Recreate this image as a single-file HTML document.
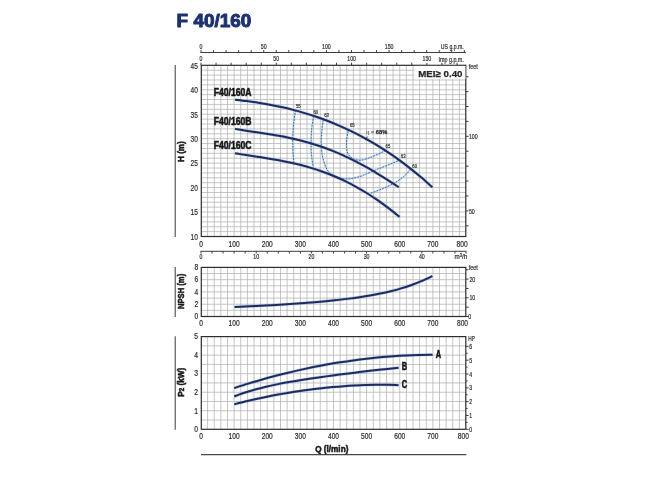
<!DOCTYPE html>
<html lang="en">
<head>
<meta charset="utf-8">
<title>F 40/160</title>
<style>
html,body{margin:0;padding:0;background:#ffffff;}
body{width:650px;height:487px;overflow:hidden;font-family:"Liberation Sans",sans-serif;}
svg{display:block;}
</style>
</head>
<body>
<svg width="650" height="487" viewBox="0 0 650 487" font-family='"Liberation Sans", sans-serif'>
<rect width="650" height="487" fill="#ffffff"/>
<text x="176.6" y="26.5" font-size="18.2" font-weight="bold" fill="#1d3270" stroke="#1d3270" stroke-width="1" stroke-linejoin="round" textLength="74.6" lengthAdjust="spacingAndGlyphs">F 40/160</text>
<path d="M175.2 65V237" stroke="#4a4a4a" stroke-width="1.1"/>
<path d="M175.2 267.1V317" stroke="#4a4a4a" stroke-width="1.1"/>
<path d="M175.2 336.3V429.8" stroke="#4a4a4a" stroke-width="1.1"/>
<path d="M201 454.6H466.3" stroke="#4a4a4a" stroke-width="1.1"/>
<path d="M207.62 65.3V236.5M214.25 65.3V236.5M220.88 65.3V236.5M227.5 65.3V236.5M234.12 65.3V236.5M240.75 65.3V236.5M247.38 65.3V236.5M254 65.3V236.5M260.62 65.3V236.5M267.25 65.3V236.5M273.88 65.3V236.5M280.5 65.3V236.5M287.12 65.3V236.5M293.75 65.3V236.5M300.38 65.3V236.5M307 65.3V236.5M313.62 65.3V236.5M320.25 65.3V236.5M326.88 65.3V236.5M333.5 65.3V236.5M340.12 65.3V236.5M346.75 65.3V236.5M353.38 65.3V236.5M360 65.3V236.5M366.62 65.3V236.5M373.25 65.3V236.5M379.88 65.3V236.5M386.5 65.3V236.5M393.12 65.3V236.5M399.75 65.3V236.5M406.38 65.3V236.5M413 65.3V236.5M419.62 65.3V236.5M426.25 65.3V236.5M432.88 65.3V236.5M439.5 65.3V236.5M446.12 65.3V236.5M452.75 65.3V236.5M459.38 65.3V236.5M201 231.61H466M201 226.72H466M201 221.83H466M201 216.93H466M201 212.04H466M201 207.15H466M201 202.26H466M201 197.37H466M201 192.48H466M201 187.59H466M201 182.69H466M201 177.8H466M201 172.91H466M201 168.02H466M201 163.13H466M201 158.24H466M201 153.35H466M201 148.45H466M201 143.56H466M201 138.67H466M201 133.78H466M201 128.89H466M201 124H466M201 119.11H466M201 114.21H466M201 109.32H466M201 104.43H466M201 99.54H466M201 94.65H466M201 89.76H466M201 84.87H466M201 79.97H466M201 75.08H466M201 70.19H466" stroke="#b2b2b2" stroke-width="0.75" fill="none"/>
<rect x="201.3" y="65.3" width="264.5" height="171.2" fill="none" stroke="#2c2c2c" stroke-width="1.2"/>
<path d="M207.62 267.4V316.5M214.25 267.4V316.5M220.88 267.4V316.5M227.5 267.4V316.5M234.12 267.4V316.5M240.75 267.4V316.5M247.38 267.4V316.5M254 267.4V316.5M260.62 267.4V316.5M267.25 267.4V316.5M273.88 267.4V316.5M280.5 267.4V316.5M287.12 267.4V316.5M293.75 267.4V316.5M300.38 267.4V316.5M307 267.4V316.5M313.62 267.4V316.5M320.25 267.4V316.5M326.88 267.4V316.5M333.5 267.4V316.5M340.12 267.4V316.5M346.75 267.4V316.5M353.38 267.4V316.5M360 267.4V316.5M366.62 267.4V316.5M373.25 267.4V316.5M379.88 267.4V316.5M386.5 267.4V316.5M393.12 267.4V316.5M399.75 267.4V316.5M406.38 267.4V316.5M413 267.4V316.5M419.62 267.4V316.5M426.25 267.4V316.5M432.88 267.4V316.5M439.5 267.4V316.5M446.12 267.4V316.5M452.75 267.4V316.5M459.38 267.4V316.5M201 310.36H466M201 304.23H466M201 298.09H466M201 291.95H466M201 285.81H466M201 279.68H466M201 273.54H466" stroke="#b2b2b2" stroke-width="0.75" fill="none"/>
<rect x="201.3" y="267.4" width="264.5" height="49.1" fill="none" stroke="#2c2c2c" stroke-width="1.2"/>
<path d="M207.62 336.6V429.3M214.25 336.6V429.3M220.88 336.6V429.3M227.5 336.6V429.3M234.12 336.6V429.3M240.75 336.6V429.3M247.38 336.6V429.3M254 336.6V429.3M260.62 336.6V429.3M267.25 336.6V429.3M273.88 336.6V429.3M280.5 336.6V429.3M287.12 336.6V429.3M293.75 336.6V429.3M300.38 336.6V429.3M307 336.6V429.3M313.62 336.6V429.3M320.25 336.6V429.3M326.88 336.6V429.3M333.5 336.6V429.3M340.12 336.6V429.3M346.75 336.6V429.3M353.38 336.6V429.3M360 336.6V429.3M366.62 336.6V429.3M373.25 336.6V429.3M379.88 336.6V429.3M386.5 336.6V429.3M393.12 336.6V429.3M399.75 336.6V429.3M406.38 336.6V429.3M413 336.6V429.3M419.62 336.6V429.3M426.25 336.6V429.3M432.88 336.6V429.3M439.5 336.6V429.3M446.12 336.6V429.3M452.75 336.6V429.3M459.38 336.6V429.3M201 420.03H466M201 410.76H466M201 401.49H466M201 392.22H466M201 382.95H466M201 373.68H466M201 364.41H466M201 355.14H466M201 345.87H466" stroke="#b2b2b2" stroke-width="0.75" fill="none"/>
<rect x="201.3" y="336.6" width="264.5" height="92.7" fill="none" stroke="#2c2c2c" stroke-width="1.2"/>
<path d="M200.5 52.5H465.8M201 52.5v-2.4M213.54 52.5v-2.4M226.08 52.5v-2.4M238.62 52.5v-2.4M251.16 52.5v-2.4M263.7 52.5v-2.4M276.24 52.5v-2.4M288.77 52.5v-2.4M301.31 52.5v-2.4M313.85 52.5v-2.4M326.39 52.5v-2.4M338.93 52.5v-2.4M351.47 52.5v-2.4M364.01 52.5v-2.4M376.55 52.5v-2.4M389.09 52.5v-2.4M401.63 52.5v-2.4M414.17 52.5v-2.4M426.71 52.5v-2.4M439.24 52.5v-2.4M451.78 52.5v-2.4M464.32 52.5v-2.4" stroke="#3c3c3c" stroke-width="1" fill="none"/>
<text transform="translate(201 49.08) scale(0.73 1)" font-size="7.2" text-anchor="middle" font-weight="normal" fill="#2a2a2a" stroke="#2a2a2a" stroke-width="0.2">0</text>
<text transform="translate(263.7 49.08) scale(0.73 1)" font-size="7.2" text-anchor="middle" font-weight="normal" fill="#2a2a2a" stroke="#2a2a2a" stroke-width="0.2">50</text>
<text transform="translate(326.39 49.08) scale(0.73 1)" font-size="7.2" text-anchor="middle" font-weight="normal" fill="#2a2a2a" stroke="#2a2a2a" stroke-width="0.2">100</text>
<text transform="translate(389.09 49.08) scale(0.73 1)" font-size="7.2" text-anchor="middle" font-weight="normal" fill="#2a2a2a" stroke="#2a2a2a" stroke-width="0.2">150</text>
<text transform="translate(463.8 49.3) scale(0.775 1)" font-size="6.7" text-anchor="end" font-weight="normal" fill="#2a2a2a" stroke="#2a2a2a" stroke-width="0.2">US g.p.m.</text>
<path d="M201 65.3v-2.6M216.06 65.3v-2.6M231.12 65.3v-2.6M246.18 65.3v-2.6M261.24 65.3v-2.6M276.29 65.3v-2.6M291.35 65.3v-2.6M306.41 65.3v-2.6M321.47 65.3v-2.6M336.53 65.3v-2.6M351.59 65.3v-2.6M366.65 65.3v-2.6M381.71 65.3v-2.6M396.77 65.3v-2.6M411.82 65.3v-2.6M426.88 65.3v-2.6M441.94 65.3v-2.6M457 65.3v-2.6" stroke="#3c3c3c" stroke-width="1" fill="none"/>
<text transform="translate(201 61.48) scale(0.73 1)" font-size="7.2" text-anchor="middle" font-weight="normal" fill="#2a2a2a" stroke="#2a2a2a" stroke-width="0.2">0</text>
<text transform="translate(276.29 61.48) scale(0.73 1)" font-size="7.2" text-anchor="middle" font-weight="normal" fill="#2a2a2a" stroke="#2a2a2a" stroke-width="0.2">50</text>
<text transform="translate(351.59 61.48) scale(0.73 1)" font-size="7.2" text-anchor="middle" font-weight="normal" fill="#2a2a2a" stroke="#2a2a2a" stroke-width="0.2">100</text>
<text transform="translate(426.88 61.48) scale(0.73 1)" font-size="7.2" text-anchor="middle" font-weight="normal" fill="#2a2a2a" stroke="#2a2a2a" stroke-width="0.2">150</text>
<text transform="translate(463.8 61.7) scale(0.8 1)" font-size="6.7" text-anchor="end" font-weight="normal" fill="#2a2a2a" stroke="#2a2a2a" stroke-width="0.2">Imp g.p.m.</text>
<path d="M466 225.78h2.5M466 210.87h2.5M466 195.96h2.5M466 181.05h2.5M466 166.14h2.5M466 151.23h2.5M466 136.32h2.5M466 121.41h2.5M466 106.51h2.5M466 91.6h2.5M466 76.69h2.5" stroke="#3c3c3c" stroke-width="1" fill="none"/>
<text transform="translate(468.7 69.07) scale(0.8 1)" font-size="6.9" text-anchor="start" font-weight="normal" fill="#2a2a2a" stroke="#2a2a2a" stroke-width="0.2">feet</text>
<text transform="translate(468.9 139.2) scale(0.73 1)" font-size="7.2" text-anchor="start" font-weight="normal" fill="#2a2a2a" stroke="#2a2a2a" stroke-width="0.2">100</text>
<text transform="translate(468.9 213.75) scale(0.73 1)" font-size="7.2" text-anchor="start" font-weight="normal" fill="#2a2a2a" stroke="#2a2a2a" stroke-width="0.2">50</text>
<text transform="translate(197.9 239.81) scale(0.78 1)" font-size="8.4" text-anchor="end" font-weight="normal" fill="#2a2a2a" stroke="#2a2a2a" stroke-width="0.2">10</text>
<text transform="translate(197.9 215.35) scale(0.78 1)" font-size="8.4" text-anchor="end" font-weight="normal" fill="#2a2a2a" stroke="#2a2a2a" stroke-width="0.2">15</text>
<text transform="translate(197.9 190.89) scale(0.78 1)" font-size="8.4" text-anchor="end" font-weight="normal" fill="#2a2a2a" stroke="#2a2a2a" stroke-width="0.2">20</text>
<text transform="translate(197.9 166.44) scale(0.78 1)" font-size="8.4" text-anchor="end" font-weight="normal" fill="#2a2a2a" stroke="#2a2a2a" stroke-width="0.2">25</text>
<text transform="translate(197.9 141.98) scale(0.78 1)" font-size="8.4" text-anchor="end" font-weight="normal" fill="#2a2a2a" stroke="#2a2a2a" stroke-width="0.2">30</text>
<text transform="translate(197.9 117.52) scale(0.78 1)" font-size="8.4" text-anchor="end" font-weight="normal" fill="#2a2a2a" stroke="#2a2a2a" stroke-width="0.2">35</text>
<text transform="translate(197.9 93.06) scale(0.78 1)" font-size="8.4" text-anchor="end" font-weight="normal" fill="#2a2a2a" stroke="#2a2a2a" stroke-width="0.2">40</text>
<text transform="translate(197.9 68.61) scale(0.78 1)" font-size="8.4" text-anchor="end" font-weight="normal" fill="#2a2a2a" stroke="#2a2a2a" stroke-width="0.2">45</text>
<text transform="translate(201 247.31) scale(0.79 1)" font-size="8.4" text-anchor="middle" font-weight="normal" fill="#2a2a2a" stroke="#2a2a2a" stroke-width="0.2">0</text>
<text transform="translate(234.12 247.31) scale(0.79 1)" font-size="8.4" text-anchor="middle" font-weight="normal" fill="#2a2a2a" stroke="#2a2a2a" stroke-width="0.2">100</text>
<text transform="translate(267.25 247.31) scale(0.79 1)" font-size="8.4" text-anchor="middle" font-weight="normal" fill="#2a2a2a" stroke="#2a2a2a" stroke-width="0.2">200</text>
<text transform="translate(300.38 247.31) scale(0.79 1)" font-size="8.4" text-anchor="middle" font-weight="normal" fill="#2a2a2a" stroke="#2a2a2a" stroke-width="0.2">300</text>
<text transform="translate(333.5 247.31) scale(0.79 1)" font-size="8.4" text-anchor="middle" font-weight="normal" fill="#2a2a2a" stroke="#2a2a2a" stroke-width="0.2">400</text>
<text transform="translate(366.62 247.31) scale(0.79 1)" font-size="8.4" text-anchor="middle" font-weight="normal" fill="#2a2a2a" stroke="#2a2a2a" stroke-width="0.2">500</text>
<text transform="translate(399.75 247.31) scale(0.79 1)" font-size="8.4" text-anchor="middle" font-weight="normal" fill="#2a2a2a" stroke="#2a2a2a" stroke-width="0.2">600</text>
<text transform="translate(432.88 247.31) scale(0.79 1)" font-size="8.4" text-anchor="middle" font-weight="normal" fill="#2a2a2a" stroke="#2a2a2a" stroke-width="0.2">700</text>
<text transform="translate(467.6 247.31) scale(0.79 1)" font-size="8.4" text-anchor="end" font-weight="normal" fill="#2a2a2a" stroke="#2a2a2a" stroke-width="0.2">800</text>
<text transform="translate(201 326.41) scale(0.79 1)" font-size="8.4" text-anchor="middle" font-weight="normal" fill="#2a2a2a" stroke="#2a2a2a" stroke-width="0.2">0</text>
<text transform="translate(234.12 326.41) scale(0.79 1)" font-size="8.4" text-anchor="middle" font-weight="normal" fill="#2a2a2a" stroke="#2a2a2a" stroke-width="0.2">100</text>
<text transform="translate(267.25 326.41) scale(0.79 1)" font-size="8.4" text-anchor="middle" font-weight="normal" fill="#2a2a2a" stroke="#2a2a2a" stroke-width="0.2">200</text>
<text transform="translate(300.38 326.41) scale(0.79 1)" font-size="8.4" text-anchor="middle" font-weight="normal" fill="#2a2a2a" stroke="#2a2a2a" stroke-width="0.2">300</text>
<text transform="translate(333.5 326.41) scale(0.79 1)" font-size="8.4" text-anchor="middle" font-weight="normal" fill="#2a2a2a" stroke="#2a2a2a" stroke-width="0.2">400</text>
<text transform="translate(366.62 326.41) scale(0.79 1)" font-size="8.4" text-anchor="middle" font-weight="normal" fill="#2a2a2a" stroke="#2a2a2a" stroke-width="0.2">500</text>
<text transform="translate(399.75 326.41) scale(0.79 1)" font-size="8.4" text-anchor="middle" font-weight="normal" fill="#2a2a2a" stroke="#2a2a2a" stroke-width="0.2">600</text>
<text transform="translate(432.88 326.41) scale(0.79 1)" font-size="8.4" text-anchor="middle" font-weight="normal" fill="#2a2a2a" stroke="#2a2a2a" stroke-width="0.2">700</text>
<text transform="translate(468 326.41) scale(0.79 1)" font-size="8.4" text-anchor="end" font-weight="normal" fill="#2a2a2a" stroke="#2a2a2a" stroke-width="0.2">800</text>
<text transform="translate(201 439.41) scale(0.79 1)" font-size="8.4" text-anchor="middle" font-weight="normal" fill="#2a2a2a" stroke="#2a2a2a" stroke-width="0.2">0</text>
<text transform="translate(234.12 439.41) scale(0.79 1)" font-size="8.4" text-anchor="middle" font-weight="normal" fill="#2a2a2a" stroke="#2a2a2a" stroke-width="0.2">100</text>
<text transform="translate(267.25 439.41) scale(0.79 1)" font-size="8.4" text-anchor="middle" font-weight="normal" fill="#2a2a2a" stroke="#2a2a2a" stroke-width="0.2">200</text>
<text transform="translate(300.38 439.41) scale(0.79 1)" font-size="8.4" text-anchor="middle" font-weight="normal" fill="#2a2a2a" stroke="#2a2a2a" stroke-width="0.2">300</text>
<text transform="translate(333.5 439.41) scale(0.79 1)" font-size="8.4" text-anchor="middle" font-weight="normal" fill="#2a2a2a" stroke="#2a2a2a" stroke-width="0.2">400</text>
<text transform="translate(366.62 439.41) scale(0.79 1)" font-size="8.4" text-anchor="middle" font-weight="normal" fill="#2a2a2a" stroke="#2a2a2a" stroke-width="0.2">500</text>
<text transform="translate(399.75 439.41) scale(0.79 1)" font-size="8.4" text-anchor="middle" font-weight="normal" fill="#2a2a2a" stroke="#2a2a2a" stroke-width="0.2">600</text>
<text transform="translate(432.88 439.41) scale(0.79 1)" font-size="8.4" text-anchor="middle" font-weight="normal" fill="#2a2a2a" stroke="#2a2a2a" stroke-width="0.2">700</text>
<text transform="translate(468.9 439.41) scale(0.79 1)" font-size="8.4" text-anchor="end" font-weight="normal" fill="#2a2a2a" stroke="#2a2a2a" stroke-width="0.2">800</text>
<path d="M200.5 251.3H466.3M201 251.3v2.2M212.04 251.3v2.2M223.08 251.3v2.2M234.12 251.3v2.2M245.17 251.3v2.2M256.21 251.3v2.2M267.25 251.3v2.2M278.29 251.3v2.2M289.33 251.3v2.2M300.38 251.3v2.2M311.42 251.3v2.2M322.46 251.3v2.2M333.5 251.3v2.2M344.54 251.3v2.2M355.58 251.3v2.2M366.62 251.3v2.2M377.67 251.3v2.2M388.71 251.3v2.2M399.75 251.3v2.2M410.79 251.3v2.2M421.83 251.3v2.2M432.88 251.3v2.2M443.92 251.3v2.2M454.96 251.3v2.2M466 251.3v2.2" stroke="#3c3c3c" stroke-width="1" fill="none"/>
<text transform="translate(201 259.38) scale(0.73 1)" font-size="7.2" text-anchor="middle" font-weight="normal" fill="#2a2a2a" stroke="#2a2a2a" stroke-width="0.2">0</text>
<text transform="translate(256.21 259.38) scale(0.73 1)" font-size="7.2" text-anchor="middle" font-weight="normal" fill="#2a2a2a" stroke="#2a2a2a" stroke-width="0.2">10</text>
<text transform="translate(311.42 259.38) scale(0.73 1)" font-size="7.2" text-anchor="middle" font-weight="normal" fill="#2a2a2a" stroke="#2a2a2a" stroke-width="0.2">20</text>
<text transform="translate(366.62 259.38) scale(0.73 1)" font-size="7.2" text-anchor="middle" font-weight="normal" fill="#2a2a2a" stroke="#2a2a2a" stroke-width="0.2">30</text>
<text transform="translate(421.83 259.38) scale(0.73 1)" font-size="7.2" text-anchor="middle" font-weight="normal" fill="#2a2a2a" stroke="#2a2a2a" stroke-width="0.2">40</text>
<text transform="translate(467.2 259.21) scale(0.9 1)" font-size="7.0" text-anchor="end" font-weight="normal" fill="#2a2a2a" stroke="#2a2a2a" stroke-width="0.2">m<tspan font-size="4.6" dy="-2.3">3</tspan><tspan dy="2.3">/h</tspan></text>
<text transform="translate(198.3 319.31) scale(0.8 1)" font-size="8.4" text-anchor="end" font-weight="normal" fill="#2a2a2a" stroke="#2a2a2a" stroke-width="0.2">0</text>
<text transform="translate(198.3 307.03) scale(0.8 1)" font-size="8.4" text-anchor="end" font-weight="normal" fill="#2a2a2a" stroke="#2a2a2a" stroke-width="0.2">2</text>
<text transform="translate(198.3 294.76) scale(0.8 1)" font-size="8.4" text-anchor="end" font-weight="normal" fill="#2a2a2a" stroke="#2a2a2a" stroke-width="0.2">4</text>
<text transform="translate(198.3 282.48) scale(0.8 1)" font-size="8.4" text-anchor="end" font-weight="normal" fill="#2a2a2a" stroke="#2a2a2a" stroke-width="0.2">6</text>
<text transform="translate(198.3 270.21) scale(0.8 1)" font-size="8.4" text-anchor="end" font-weight="normal" fill="#2a2a2a" stroke="#2a2a2a" stroke-width="0.2">8</text>
<path d="M466 316.5h2.6M466 307.15h2.6M466 297.79h2.6M466 288.44h2.6M466 279.09h2.6M466 269.73h2.6" stroke="#3c3c3c" stroke-width="1" fill="none"/>
<text transform="translate(468.7 269.77) scale(0.8 1)" font-size="6.9" text-anchor="start" font-weight="normal" fill="#2a2a2a" stroke="#2a2a2a" stroke-width="0.2">feet</text>
<text transform="translate(469.4 281.66) scale(0.73 1)" font-size="7.2" text-anchor="start" font-weight="normal" fill="#2a2a2a" stroke="#2a2a2a" stroke-width="0.2">20</text>
<text transform="translate(469.4 300.37) scale(0.73 1)" font-size="7.2" text-anchor="start" font-weight="normal" fill="#2a2a2a" stroke="#2a2a2a" stroke-width="0.2">10</text>
<text transform="translate(468.3 319.38) scale(0.73 1)" font-size="7.2" text-anchor="start" font-weight="normal" fill="#2a2a2a" stroke="#2a2a2a" stroke-width="0.2">0</text>
<text transform="translate(198 432.11) scale(0.8 1)" font-size="8.4" text-anchor="end" font-weight="normal" fill="#2a2a2a" stroke="#2a2a2a" stroke-width="0.2">0</text>
<text transform="translate(198 413.57) scale(0.8 1)" font-size="8.4" text-anchor="end" font-weight="normal" fill="#2a2a2a" stroke="#2a2a2a" stroke-width="0.2">1</text>
<text transform="translate(198 395.03) scale(0.8 1)" font-size="8.4" text-anchor="end" font-weight="normal" fill="#2a2a2a" stroke="#2a2a2a" stroke-width="0.2">2</text>
<text transform="translate(198 376.49) scale(0.8 1)" font-size="8.4" text-anchor="end" font-weight="normal" fill="#2a2a2a" stroke="#2a2a2a" stroke-width="0.2">3</text>
<text transform="translate(198 357.95) scale(0.8 1)" font-size="8.4" text-anchor="end" font-weight="normal" fill="#2a2a2a" stroke="#2a2a2a" stroke-width="0.2">4</text>
<text transform="translate(198 339.41) scale(0.8 1)" font-size="8.4" text-anchor="end" font-weight="normal" fill="#2a2a2a" stroke="#2a2a2a" stroke-width="0.2">5</text>
<path d="M466 429.3h2.6M466 422.39h1.6M466 415.47h2.6M466 408.56h1.6M466 401.65h2.6M466 394.74h1.6M466 387.82h2.6M466 380.91h1.6M466 374h2.6M466 367.09h1.6M466 360.17h2.6M466 353.26h1.6M466 346.35h2.6" stroke="#3c3c3c" stroke-width="1" fill="none"/>
<text transform="translate(468.3 340.63) scale(0.7 1)" font-size="6.8" text-anchor="start" font-weight="normal" fill="#2a2a2a" stroke="#2a2a2a" stroke-width="0.2">HP</text>
<text transform="translate(469.2 431.58) scale(0.73 1)" font-size="7.2" text-anchor="start" font-weight="normal" fill="#2a2a2a" stroke="#2a2a2a" stroke-width="0.2">0</text>
<text transform="translate(469.2 418.05) scale(0.73 1)" font-size="7.2" text-anchor="start" font-weight="normal" fill="#2a2a2a" stroke="#2a2a2a" stroke-width="0.2">1</text>
<text transform="translate(469.2 404.23) scale(0.73 1)" font-size="7.2" text-anchor="start" font-weight="normal" fill="#2a2a2a" stroke="#2a2a2a" stroke-width="0.2">2</text>
<text transform="translate(469.2 390.4) scale(0.73 1)" font-size="7.2" text-anchor="start" font-weight="normal" fill="#2a2a2a" stroke="#2a2a2a" stroke-width="0.2">3</text>
<text transform="translate(469.2 376.58) scale(0.73 1)" font-size="7.2" text-anchor="start" font-weight="normal" fill="#2a2a2a" stroke="#2a2a2a" stroke-width="0.2">4</text>
<text transform="translate(469.2 362.75) scale(0.73 1)" font-size="7.2" text-anchor="start" font-weight="normal" fill="#2a2a2a" stroke="#2a2a2a" stroke-width="0.2">5</text>
<text transform="translate(469.2 348.93) scale(0.73 1)" font-size="7.2" text-anchor="start" font-weight="normal" fill="#2a2a2a" stroke="#2a2a2a" stroke-width="0.2">6</text>
<text transform="translate(180.2 151.6) rotate(-90) scale(0.86 1)" y="3.37" font-size="9.4" text-anchor="middle" font-weight="bold" fill="#1a1a1a" stroke="#1a1a1a" stroke-width="0.55">H (m)</text>
<text transform="translate(180.2 291.45) rotate(-90) scale(0.815 1)" y="3.37" font-size="9.4" text-anchor="middle" font-weight="bold" fill="#1a1a1a" stroke="#1a1a1a" stroke-width="0.55">NPSH (m)</text>
<text transform="translate(180.2 382.25) rotate(-90) scale(0.87 1)" y="3.37" font-size="9.4" text-anchor="middle" font-weight="bold" fill="#1a1a1a" stroke="#1a1a1a" stroke-width="0.55">P<tspan font-size="7">2</tspan> (kW)</text>
<text transform="translate(331.8 451.97) scale(0.87 1)" font-size="9.4" text-anchor="middle" font-weight="bold" fill="#1a1a1a" stroke="#1a1a1a" stroke-width="0.55">Q (l/min)</text>
<rect x="414.6" y="65.9" width="50.8" height="13.2" fill="#ffffff"/>
<text x="418.2" y="76.6" font-size="9.6" font-weight="bold" fill="#262626" stroke="#262626" stroke-width="0.25" textLength="44.3" lengthAdjust="spacingAndGlyphs">MEI≥ 0.40</text>
<path d="M295.6 110C295.28 112.17 294.17 118.67 293.7 123C293.23 127.33 292.93 131.67 292.8 136C292.67 140.33 292.77 144.67 292.9 149C293.03 153.33 293.48 159.83 293.6 162" stroke="#a6d2f4" stroke-width="2.4" fill="none" stroke-opacity="0.4"/>
<path d="M295.6 110C295.28 112.17 294.17 118.67 293.7 123C293.23 127.33 292.93 131.67 292.8 136C292.67 140.33 292.77 144.67 292.9 149C293.03 153.33 293.48 159.83 293.6 162" stroke="#1f5088" stroke-width="0.8" fill="none" stroke-dasharray="2 1"/>
<path d="M313.6 115.8C313.3 117.83 312.22 123.9 311.8 128C311.38 132.1 311.18 136.23 311.1 140.4C311.02 144.57 310.95 148.6 311.3 153C311.65 157.4 312.88 164.5 313.2 166.8" stroke="#a6d2f4" stroke-width="2.4" fill="none" stroke-opacity="0.4"/>
<path d="M313.6 115.8C313.3 117.83 312.22 123.9 311.8 128C311.38 132.1 311.18 136.23 311.1 140.4C311.02 144.57 310.95 148.6 311.3 153C311.65 157.4 312.88 164.5 313.2 166.8" stroke="#1f5088" stroke-width="0.8" fill="none" stroke-dasharray="2 1"/>
<path d="M323.2 119.8C322.97 121.67 322.12 127.13 321.8 131C321.48 134.87 321.2 138.83 321.3 143C321.4 147.17 321.45 151.58 322.4 156C323.35 160.42 325.15 166.23 327 169.5C328.85 172.77 330.83 174.08 333.5 175.6C336.17 177.12 340.12 178.1 343 178.6C345.88 179.1 347.97 178.95 350.8 178.6C353.63 178.25 357.42 177.28 360 176.5C362.58 175.72 363.37 175.12 366.3 173.9C369.23 172.68 373.83 170.73 377.6 169.2C381.37 167.67 385.37 166.17 388.9 164.7C392.43 163.23 397.15 161.12 398.8 160.4" stroke="#a6d2f4" stroke-width="2.4" fill="none" stroke-opacity="0.4"/>
<path d="M323.2 119.8C322.97 121.67 322.12 127.13 321.8 131C321.48 134.87 321.2 138.83 321.3 143C321.4 147.17 321.45 151.58 322.4 156C323.35 160.42 325.15 166.23 327 169.5C328.85 172.77 330.83 174.08 333.5 175.6C336.17 177.12 340.12 178.1 343 178.6C345.88 179.1 347.97 178.95 350.8 178.6C353.63 178.25 357.42 177.28 360 176.5C362.58 175.72 363.37 175.12 366.3 173.9C369.23 172.68 373.83 170.73 377.6 169.2C381.37 167.67 385.37 166.17 388.9 164.7C392.43 163.23 397.15 161.12 398.8 160.4" stroke="#1f5088" stroke-width="0.8" fill="none" stroke-dasharray="2 1"/>
<path d="M348 131.1C347.78 132.58 346.93 137.18 346.7 140C346.47 142.82 346.38 145.7 346.6 148C346.82 150.3 347.02 152.08 348 153.8C348.98 155.52 350.4 157.23 352.5 158.3C354.6 159.37 357.35 160.45 360.6 160.2C363.85 159.95 368.23 158.22 372 156.8C375.77 155.38 380.93 152.77 383.2 151.7C385.47 150.63 385.2 150.62 385.6 150.4" stroke="#a6d2f4" stroke-width="2.4" fill="none" stroke-opacity="0.4"/>
<path d="M348 131.1C347.78 132.58 346.93 137.18 346.7 140C346.47 142.82 346.38 145.7 346.6 148C346.82 150.3 347.02 152.08 348 153.8C348.98 155.52 350.4 157.23 352.5 158.3C354.6 159.37 357.35 160.45 360.6 160.2C363.85 159.95 368.23 158.22 372 156.8C375.77 155.38 380.93 152.77 383.2 151.7C385.47 150.63 385.2 150.62 385.6 150.4" stroke="#1f5088" stroke-width="0.8" fill="none" stroke-dasharray="2 1"/>
<path d="M370.8 193.2C372.87 192.4 379.25 190.1 383.2 188.4C387.15 186.7 391.1 184.97 394.5 183C397.9 181.03 400.92 178.83 403.6 176.6C406.28 174.37 409.43 170.77 410.6 169.6" stroke="#a6d2f4" stroke-width="2.4" fill="none" stroke-opacity="0.4"/>
<path d="M370.8 193.2C372.87 192.4 379.25 190.1 383.2 188.4C387.15 186.7 391.1 184.97 394.5 183C397.9 181.03 400.92 178.83 403.6 176.6C406.28 174.37 409.43 170.77 410.6 169.6" stroke="#1f5088" stroke-width="0.8" fill="none" stroke-dasharray="2 1"/>
<path d="M235 99.68C236.94 99.9 242.74 100.51 246.61 101.01C250.48 101.51 254.35 102.06 258.22 102.67C262.09 103.28 265.96 103.94 269.84 104.67C273.71 105.4 277.58 106.19 281.45 107.06C285.32 107.92 289.19 108.85 293.06 109.86C296.93 110.86 300.8 111.94 304.67 113.1C308.54 114.26 312.41 115.5 316.28 116.82C320.15 118.15 324.02 119.55 327.89 121.05C331.76 122.55 335.64 124.14 339.51 125.83C343.38 127.51 347.25 129.29 351.12 131.17C354.99 133.05 358.86 135.03 362.73 137.12C366.6 139.21 370.47 141.4 374.34 143.71C378.21 146.01 382.08 148.43 385.95 150.96C389.82 153.49 393.69 156.14 397.56 158.91C401.44 161.69 405.31 164.58 409.18 167.6C413.05 170.62 416.92 173.77 420.79 177.05C424.66 180.33 430.46 185.59 432.4 187.29" stroke="#7d9bd6" stroke-width="3.2" fill="none" stroke-opacity="0.4"/>
<path d="M235 99.68C236.94 99.9 242.74 100.51 246.61 101.01C250.48 101.51 254.35 102.06 258.22 102.67C262.09 103.28 265.96 103.94 269.84 104.67C273.71 105.4 277.58 106.19 281.45 107.06C285.32 107.92 289.19 108.85 293.06 109.86C296.93 110.86 300.8 111.94 304.67 113.1C308.54 114.26 312.41 115.5 316.28 116.82C320.15 118.15 324.02 119.55 327.89 121.05C331.76 122.55 335.64 124.14 339.51 125.83C343.38 127.51 347.25 129.29 351.12 131.17C354.99 133.05 358.86 135.03 362.73 137.12C366.6 139.21 370.47 141.4 374.34 143.71C378.21 146.01 382.08 148.43 385.95 150.96C389.82 153.49 393.69 156.14 397.56 158.91C401.44 161.69 405.31 164.58 409.18 167.6C413.05 170.62 416.92 173.77 420.79 177.05C424.66 180.33 430.46 185.59 432.4 187.29" stroke="#1d2c60" stroke-width="2.0" fill="none" stroke-linecap="butt"/>
<path d="M235 128.87C236.82 129.17 242.28 130.08 245.92 130.65C249.56 131.22 253.2 131.74 256.84 132.29C260.48 132.84 264.12 133.37 267.76 133.95C271.4 134.54 275.04 135.13 278.68 135.79C282.32 136.45 285.96 137.14 289.6 137.91C293.24 138.69 296.88 139.52 300.52 140.44C304.16 141.36 307.8 142.35 311.44 143.44C315.08 144.53 318.72 145.7 322.36 146.98C326 148.25 329.64 149.62 333.28 151.09C336.92 152.56 340.56 154.13 344.2 155.79C347.84 157.46 351.48 159.23 355.12 161.08C358.76 162.94 362.4 164.9 366.04 166.93C369.68 168.96 373.32 171.1 376.96 173.29C380.6 175.48 384.24 177.76 387.88 180.08C391.52 182.41 396.98 186.04 398.8 187.23" stroke="#7d9bd6" stroke-width="3.2" fill="none" stroke-opacity="0.4"/>
<path d="M235 128.87C236.82 129.17 242.28 130.08 245.92 130.65C249.56 131.22 253.2 131.74 256.84 132.29C260.48 132.84 264.12 133.37 267.76 133.95C271.4 134.54 275.04 135.13 278.68 135.79C282.32 136.45 285.96 137.14 289.6 137.91C293.24 138.69 296.88 139.52 300.52 140.44C304.16 141.36 307.8 142.35 311.44 143.44C315.08 144.53 318.72 145.7 322.36 146.98C326 148.25 329.64 149.62 333.28 151.09C336.92 152.56 340.56 154.13 344.2 155.79C347.84 157.46 351.48 159.23 355.12 161.08C358.76 162.94 362.4 164.9 366.04 166.93C369.68 168.96 373.32 171.1 376.96 173.29C380.6 175.48 384.24 177.76 387.88 180.08C391.52 182.41 396.98 186.04 398.8 187.23" stroke="#1d2c60" stroke-width="2.0" fill="none" stroke-linecap="butt"/>
<path d="M235 153.27C236.83 153.56 242.31 154.45 245.97 155.02C249.62 155.59 253.28 156.13 256.93 156.69C260.59 157.25 264.24 157.8 267.9 158.4C271.56 159 275.21 159.61 278.87 160.29C282.52 160.97 286.18 161.68 289.83 162.47C293.49 163.26 297.14 164.1 300.8 165.04C304.46 165.98 308.11 166.99 311.77 168.1C315.42 169.21 319.08 170.41 322.73 171.72C326.39 173.03 330.04 174.44 333.7 175.97C337.36 177.5 341.01 179.14 344.67 180.9C348.32 182.67 351.98 184.55 355.63 186.57C359.29 188.58 362.94 190.71 366.6 192.98C370.26 195.25 373.91 197.65 377.57 200.17C381.22 202.7 384.88 205.36 388.53 208.15C392.19 210.93 397.67 215.43 399.5 216.89" stroke="#7d9bd6" stroke-width="3.2" fill="none" stroke-opacity="0.4"/>
<path d="M235 153.27C236.83 153.56 242.31 154.45 245.97 155.02C249.62 155.59 253.28 156.13 256.93 156.69C260.59 157.25 264.24 157.8 267.9 158.4C271.56 159 275.21 159.61 278.87 160.29C282.52 160.97 286.18 161.68 289.83 162.47C293.49 163.26 297.14 164.1 300.8 165.04C304.46 165.98 308.11 166.99 311.77 168.1C315.42 169.21 319.08 170.41 322.73 171.72C326.39 173.03 330.04 174.44 333.7 175.97C337.36 177.5 341.01 179.14 344.67 180.9C348.32 182.67 351.98 184.55 355.63 186.57C359.29 188.58 362.94 190.71 366.6 192.98C370.26 195.25 373.91 197.65 377.57 200.17C381.22 202.7 384.88 205.36 388.53 208.15C392.19 210.93 397.67 215.43 399.5 216.89" stroke="#1d2c60" stroke-width="2.0" fill="none" stroke-linecap="butt"/>
<path d="M365.4 140.2L367.3 136.6" stroke="#1d2c60" stroke-width="1"/>
<text transform="translate(213.7 96.06) scale(0.82 1)" font-size="10.5" text-anchor="start" font-weight="bold" fill="#161616" stroke="#161616" stroke-width="0.55">F40/160A</text>
<text transform="translate(213.7 124.56) scale(0.82 1)" font-size="10.5" text-anchor="start" font-weight="bold" fill="#161616" stroke="#161616" stroke-width="0.55">F40/160B</text>
<text transform="translate(213.7 148.96) scale(0.82 1)" font-size="10.5" text-anchor="start" font-weight="bold" fill="#161616" stroke="#161616" stroke-width="0.55">F40/160C</text>
<text transform="translate(298.3 107.76) scale(0.82 1)" font-size="5.2" text-anchor="middle" font-weight="normal" fill="#333333" stroke="#333333" stroke-width="0.2">55</text>
<text transform="translate(315.8 113.76) scale(0.82 1)" font-size="5.2" text-anchor="middle" font-weight="normal" fill="#333333" stroke="#333333" stroke-width="0.2">60</text>
<text transform="translate(326.6 117.06) scale(0.82 1)" font-size="5.2" text-anchor="middle" font-weight="normal" fill="#333333" stroke="#333333" stroke-width="0.2">63</text>
<text transform="translate(352.3 127.26) scale(0.82 1)" font-size="5.2" text-anchor="middle" font-weight="normal" fill="#333333" stroke="#333333" stroke-width="0.2">65</text>
<text transform="translate(387.9 147.66) scale(0.82 1)" font-size="5.2" text-anchor="middle" font-weight="normal" fill="#333333" stroke="#333333" stroke-width="0.2">65</text>
<text transform="translate(403.2 157.86) scale(0.82 1)" font-size="5.2" text-anchor="middle" font-weight="normal" fill="#333333" stroke="#333333" stroke-width="0.2">63</text>
<text transform="translate(414.7 167.76) scale(0.82 1)" font-size="5.2" text-anchor="middle" font-weight="normal" fill="#333333" stroke="#333333" stroke-width="0.2">60</text>
<text x="366.2" y="134.4" font-size="6" fill="#2e2e2e" textLength="21" lengthAdjust="spacingAndGlyphs">η = <tspan font-weight="bold" stroke="#2e2e2e" stroke-width="0.25">68%</tspan></text>
<path d="M234.6 306.98C236.34 306.91 241.54 306.71 245.01 306.56C248.48 306.4 251.95 306.24 255.42 306.07C258.89 305.89 262.36 305.71 265.83 305.52C269.3 305.33 272.77 305.13 276.24 304.92C279.71 304.71 283.18 304.49 286.65 304.26C290.12 304.03 293.59 303.79 297.06 303.54C300.53 303.3 304 303.04 307.47 302.76C310.94 302.49 314.41 302.21 317.88 301.9C321.35 301.6 324.82 301.29 328.29 300.95C331.76 300.61 335.24 300.25 338.71 299.87C342.18 299.48 345.65 299.08 349.12 298.63C352.59 298.19 356.06 297.72 359.53 297.2C363 296.68 366.47 296.13 369.94 295.52C373.41 294.91 376.88 294.26 380.35 293.53C383.82 292.81 387.29 292.03 390.76 291.17C394.23 290.3 397.7 289.38 401.17 288.34C404.64 287.31 408.11 286.21 411.58 284.97C415.05 283.74 418.52 282.42 421.99 280.95C425.46 279.48 430.66 276.95 432.4 276.15" stroke="#7d9bd6" stroke-width="3.2" fill="none" stroke-opacity="0.4"/>
<path d="M234.6 306.98C236.34 306.91 241.54 306.71 245.01 306.56C248.48 306.4 251.95 306.24 255.42 306.07C258.89 305.89 262.36 305.71 265.83 305.52C269.3 305.33 272.77 305.13 276.24 304.92C279.71 304.71 283.18 304.49 286.65 304.26C290.12 304.03 293.59 303.79 297.06 303.54C300.53 303.3 304 303.04 307.47 302.76C310.94 302.49 314.41 302.21 317.88 301.9C321.35 301.6 324.82 301.29 328.29 300.95C331.76 300.61 335.24 300.25 338.71 299.87C342.18 299.48 345.65 299.08 349.12 298.63C352.59 298.19 356.06 297.72 359.53 297.2C363 296.68 366.47 296.13 369.94 295.52C373.41 294.91 376.88 294.26 380.35 293.53C383.82 292.81 387.29 292.03 390.76 291.17C394.23 290.3 397.7 289.38 401.17 288.34C404.64 287.31 408.11 286.21 411.58 284.97C415.05 283.74 418.52 282.42 421.99 280.95C425.46 279.48 430.66 276.95 432.4 276.15" stroke="#1d2c60" stroke-width="2.0" fill="none" stroke-linecap="butt"/>
<path d="M234.2 388.05C236.4 387.35 243.01 385.21 247.42 383.86C251.83 382.51 256.23 381.2 260.64 379.95C265.05 378.69 269.45 377.48 273.86 376.31C278.27 375.15 282.67 374.03 287.08 372.96C291.49 371.89 295.89 370.86 300.3 369.88C304.71 368.91 309.11 367.98 313.52 367.09C317.93 366.21 322.33 365.37 326.74 364.58C331.15 363.79 335.55 363.05 339.96 362.35C344.37 361.66 348.77 361.01 353.18 360.41C357.59 359.81 361.99 359.25 366.4 358.75C370.81 358.24 375.21 357.78 379.62 357.37C384.03 356.96 388.43 356.6 392.84 356.28C397.25 355.96 401.65 355.69 406.06 355.47C410.47 355.25 414.87 355.08 419.28 354.95C423.69 354.83 430.3 354.76 432.5 354.72" stroke="#7d9bd6" stroke-width="3.2" fill="none" stroke-opacity="0.4"/>
<path d="M234.2 388.05C236.4 387.35 243.01 385.21 247.42 383.86C251.83 382.51 256.23 381.2 260.64 379.95C265.05 378.69 269.45 377.48 273.86 376.31C278.27 375.15 282.67 374.03 287.08 372.96C291.49 371.89 295.89 370.86 300.3 369.88C304.71 368.91 309.11 367.98 313.52 367.09C317.93 366.21 322.33 365.37 326.74 364.58C331.15 363.79 335.55 363.05 339.96 362.35C344.37 361.66 348.77 361.01 353.18 360.41C357.59 359.81 361.99 359.25 366.4 358.75C370.81 358.24 375.21 357.78 379.62 357.37C384.03 356.96 388.43 356.6 392.84 356.28C397.25 355.96 401.65 355.69 406.06 355.47C410.47 355.25 414.87 355.08 419.28 354.95C423.69 354.83 430.3 354.76 432.5 354.72" stroke="#1d2c60" stroke-width="2.0" fill="none" stroke-linecap="butt"/>
<path d="M234.2 396.42C236.03 395.77 241.51 393.74 245.16 392.55C248.81 391.36 252.47 390.3 256.12 389.29C259.77 388.29 263.43 387.38 267.08 386.52C270.73 385.66 274.39 384.88 278.04 384.14C281.69 383.4 285.35 382.72 289 382.06C292.65 381.41 296.31 380.8 299.96 380.22C303.61 379.63 307.27 379.08 310.92 378.53C314.57 377.99 318.23 377.48 321.88 376.97C325.53 376.46 329.19 375.97 332.84 375.49C336.49 375.01 340.15 374.53 343.8 374.07C347.45 373.6 351.11 373.14 354.76 372.69C358.41 372.24 362.07 371.79 365.72 371.36C369.37 370.92 373.03 370.49 376.68 370.09C380.33 369.68 383.99 369.28 387.64 368.9C391.29 368.53 396.77 368.02 398.6 367.85" stroke="#7d9bd6" stroke-width="3.2" fill="none" stroke-opacity="0.4"/>
<path d="M234.2 396.42C236.03 395.77 241.51 393.74 245.16 392.55C248.81 391.36 252.47 390.3 256.12 389.29C259.77 388.29 263.43 387.38 267.08 386.52C270.73 385.66 274.39 384.88 278.04 384.14C281.69 383.4 285.35 382.72 289 382.06C292.65 381.41 296.31 380.8 299.96 380.22C303.61 379.63 307.27 379.08 310.92 378.53C314.57 377.99 318.23 377.48 321.88 376.97C325.53 376.46 329.19 375.97 332.84 375.49C336.49 375.01 340.15 374.53 343.8 374.07C347.45 373.6 351.11 373.14 354.76 372.69C358.41 372.24 362.07 371.79 365.72 371.36C369.37 370.92 373.03 370.49 376.68 370.09C380.33 369.68 383.99 369.28 387.64 368.9C391.29 368.53 396.77 368.02 398.6 367.85" stroke="#1d2c60" stroke-width="2.0" fill="none" stroke-linecap="butt"/>
<path d="M234.2 404.32C236.03 403.85 241.51 402.41 245.16 401.52C248.81 400.63 252.47 399.78 256.12 398.97C259.77 398.16 263.43 397.4 267.08 396.66C270.73 395.93 274.39 395.23 278.04 394.57C281.69 393.91 285.35 393.28 289 392.68C292.65 392.08 296.31 391.52 299.96 390.99C303.61 390.46 307.27 389.96 310.92 389.49C314.57 389.02 318.23 388.58 321.88 388.17C325.53 387.77 329.19 387.4 332.84 387.06C336.49 386.72 340.15 386.41 343.8 386.14C347.45 385.87 351.11 385.64 354.76 385.44C358.41 385.25 362.07 385.09 365.72 384.98C369.37 384.87 373.03 384.79 376.68 384.77C380.33 384.74 383.99 384.76 387.64 384.83C391.29 384.91 396.77 385.15 398.6 385.21" stroke="#7d9bd6" stroke-width="3.2" fill="none" stroke-opacity="0.4"/>
<path d="M234.2 404.32C236.03 403.85 241.51 402.41 245.16 401.52C248.81 400.63 252.47 399.78 256.12 398.97C259.77 398.16 263.43 397.4 267.08 396.66C270.73 395.93 274.39 395.23 278.04 394.57C281.69 393.91 285.35 393.28 289 392.68C292.65 392.08 296.31 391.52 299.96 390.99C303.61 390.46 307.27 389.96 310.92 389.49C314.57 389.02 318.23 388.58 321.88 388.17C325.53 387.77 329.19 387.4 332.84 387.06C336.49 386.72 340.15 386.41 343.8 386.14C347.45 385.87 351.11 385.64 354.76 385.44C358.41 385.25 362.07 385.09 365.72 384.98C369.37 384.87 373.03 384.79 376.68 384.77C380.33 384.74 383.99 384.76 387.64 384.83C391.29 384.91 396.77 385.15 398.6 385.21" stroke="#1d2c60" stroke-width="2.0" fill="none" stroke-linecap="butt"/>
<text transform="translate(438.5 358.29) scale(0.72 1)" font-size="10.3" text-anchor="middle" font-weight="bold" fill="#161616" stroke="#161616" stroke-width="0.6">A</text>
<text transform="translate(404.5 370.49) scale(0.72 1)" font-size="10.3" text-anchor="middle" font-weight="bold" fill="#161616" stroke="#161616" stroke-width="0.6">B</text>
<text transform="translate(404.3 387.99) scale(0.72 1)" font-size="10.3" text-anchor="middle" font-weight="bold" fill="#161616" stroke="#161616" stroke-width="0.6">C</text>
</svg>
</body>
</html>
